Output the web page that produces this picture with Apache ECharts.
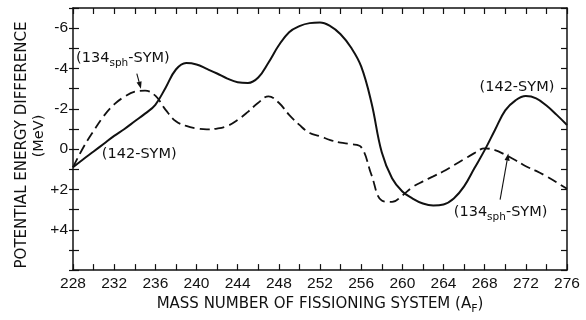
<!DOCTYPE html>
<html><head><meta charset="utf-8">
<script src="https://cdn.jsdelivr.net/npm/echarts@6/dist/echarts.min.js"></script>
<style>html,body{margin:0;padding:0;background:#fff}#c{width:586px;height:320px}</style>
</head><body><div id="c"></div>
<script>
// Data (values at each mass number A_F)
const massNumbers = [228, 229, 230, 231, 232, 233, 234, 235, 236, 237, 238, 239, 240, 241, 242, 243, 244, 245, 246, 247, 248, 249, 250, 251, 252, 253, 254, 255, 256, 257, 258, 259, 260, 261, 262, 263, 264, 265, 266, 267, 268, 269, 270, 271, 272, 273, 274, 275, 276];
const sym142 = [0.9, 0.5, 0.12, -0.27, -0.66, -1.0, -1.38, -1.76, -2.2, -3.05, -3.95, -4.27, -4.2, -3.98, -3.75, -3.5, -3.32, -3.28, -3.55, -4.3, -5.15, -5.8, -6.1, -6.25, -6.28, -6.1, -5.7, -5.05, -4.1, -2.3, 0.16, 1.44, 2.1, 2.45, 2.7, 2.8, 2.75, 2.45, 1.85, 0.95, 0.05, -0.95, -1.92, -2.42, -2.63, -2.52, -2.16, -1.7, -1.2];
const sym134sph = [0.9, -0.08, -0.9, -1.65, -2.22, -2.6, -2.85, -2.9, -2.65, -1.95, -1.38, -1.15, -1.03, -0.98, -1.02, -1.15, -1.45, -1.85, -2.3, -2.62, -2.3, -1.7, -1.2, -0.8, -0.64, -0.45, -0.32, -0.25, -0.1, 1.28, 2.55, 2.62, 2.3, 1.88, 1.6, 1.35, 1.1, 0.8, 0.5, 0.2, -0.04, 0.05, 0.28, 0.55, 0.85, 1.08, 1.35, 1.65, 1.97];
const xTickLabels = ['228','232','236','240','244','248','252','256','260','264','268','272','276'];
const yTickLabels = ['-6','-4','-2','0','+2','+4'];

const NUMFONT = '"Liberation Sans", Arial, sans-serif';
const FONT = '"DejaVu Sans", sans-serif';
const INK = '#111';
const chart = echarts.init(document.getElementById('c'), null, {renderer: 'canvas'});

function xFmt(v) {
  const s = String(Math.round(v));
  return xTickLabels.indexOf(s) >= 0 ? s : '';
}
function yFmt(v) {
  const r = Math.round(v);
  const s = r > 0 ? '+' + r : String(r);
  return yTickLabels.indexOf(s) >= 0 ? s : '';
}
const axisLineStyle = {color: INK, width: 1.5};
const tickStyle = {show: true, inside: true, length: 6, lineStyle: {color: INK, width: 1.2}};

chart.setOption({
  backgroundColor: '#fff',
  animation: false,
  grid: {left: 73, right: 19, top: 8, bottom: 41, containLabel: false},
  xAxis: [{
    type: 'value', min: 228, max: 276, interval: 2, position: 'bottom',
    axisLine: {show: true, onZero: false, lineStyle: axisLineStyle},
    axisTick: tickStyle,
    splitLine: {show: false},
    axisLabel: {formatter: xFmt, color: INK, fontSize: 15.5, fontFamily: NUMFONT, margin: 6, showMinLabel: true, showMaxLabel: true},
    name: '{a|MASS NUMBER OF FISSIONING SYSTEM (A}{s|F}{a|)}',
    nameLocation: 'middle', nameGap: 23,
    nameTextStyle: {rich: {
      a: {fontSize: 15, fontFamily: FONT, color: INK},
      s: {fontSize: 11, fontFamily: FONT, color: INK, padding: [10, 0, 0, 0]}
    }}
  }, {
    type: 'value', min: 228, max: 276, interval: 2, position: 'top',
    axisLine: {show: true, onZero: false, lineStyle: axisLineStyle},
    axisTick: tickStyle, axisLabel: {show: false}, splitLine: {show: false}
  }],
  yAxis: [{
    type: 'value', min: -7, max: 6, interval: 1, inverse: true, position: 'left',
    axisLine: {show: true, onZero: false, lineStyle: axisLineStyle},
    axisTick: tickStyle, splitLine: {show: false},
    axisLabel: {formatter: yFmt, color: INK, fontSize: 15.5, fontFamily: NUMFONT, margin: 5}
  }, {
    type: 'value', min: -7, max: 6, interval: 1, inverse: true, position: 'right',
    axisLine: {show: true, onZero: false, lineStyle: axisLineStyle},
    axisTick: tickStyle, axisLabel: {show: false}, splitLine: {show: false}
  }, {
    type: 'value', min: -7, max: 6, interval: 1, inverse: true, position: 'left', offset: 0,
    axisLine: {show: false, onZero: false},
    axisTick: {show: true, inside: false, length: 4, lineStyle: {color: INK, width: 1.2}},
    axisLabel: {show: false}, splitLine: {show: false}
  }],
  series: [{
    name: '142-SYM', type: 'line', smooth: 0.4, showSymbol: false,
    xAxisIndex: 0, yAxisIndex: 0,
    data: massNumbers.map((x, i) => [x, sym142[i]]),
    lineStyle: {color: INK, width: 2}
  }, {
    name: '134sph-SYM', type: 'line', smooth: 0.4, showSymbol: false,
    xAxisIndex: 0, yAxisIndex: 0,
    data: massNumbers.map((x, i) => [x, sym134sph[i]]),
    lineStyle: {color: INK, width: 1.8, type: [10, 5]}
  }]
});

function px(x, y) { return chart.convertToPixel({xAxisIndex: 0, yAxisIndex: 0}, [x, y]); }
const richLabel = {
  a: {fontSize: 14.5, fontFamily: FONT, fill: INK},
  s: {fontSize: 10.5, fontFamily: FONT, fill: INK, padding: [9, 0, 0, 0]}
};
function label(x, y, text) {
  const p = px(x, y);
  return {type: 'text', x: p[0], y: p[1], style: {text: text, rich: richLabel, fill: INK, font: '14.5px ' + FONT, verticalAlign: 'middle', align: 'left'}};
}
function arrow(x1, y1, x2, y2) {
  const a = px(x1, y1), b = px(x2, y2);
  const ang = Math.atan2(b[1] - a[1], b[0] - a[0]);
  const L = 7, W = 2.6;
  const bx = b[0] - L * Math.cos(ang), by = b[1] - L * Math.sin(ang);
  const nx = -Math.sin(ang), ny = Math.cos(ang);
  return [{
    type: 'line', shape: {x1: a[0], y1: a[1], x2: bx, y2: by}, style: {stroke: INK, lineWidth: 1.1}
  }, {
    type: 'polygon', shape: {points: [[b[0], b[1]], [bx + nx * W, by + ny * W], [bx - nx * W, by - ny * W]]}, style: {fill: INK}
  }];
}
const graphics = [
  label(228.3, -4.5, '{a|(134}{s|sph}{a|-SYM)}'),
  label(230.8, 0.25, '{a|(142-SYM)}'),
  label(267.5, -3.05, '{a|(142-SYM)}'),
  label(265.0, 3.15, '{a|(134}{s|sph}{a|-SYM)}'),
  ...arrow(234.2, -3.75, 234.6, -3.0),
  ...arrow(269.5, 2.5, 270.3, 0.22),
  {type: 'text', x: 22, y: 145, rotation: Math.PI / 2,
   style: {text: 'POTENTIAL ENERGY DIFFERENCE', fill: INK, font: '15px ' + FONT, align: 'center', verticalAlign: 'middle'}},
  {type: 'text', x: 39, y: 136, rotation: Math.PI / 2,
   style: {text: '(MeV)', fill: INK, font: '14.5px ' + FONT, align: 'center', verticalAlign: 'middle'}}
];
chart.setOption({graphic: graphics});
</script>
</body></html>
